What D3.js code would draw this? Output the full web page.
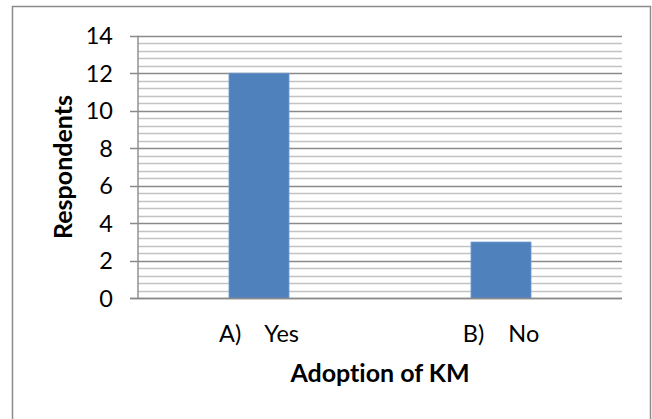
<!DOCTYPE html>
<html>
<head>
<meta charset="utf-8">
<script src="https://cdn.jsdelivr.net/npm/d3@7"></script>
<style>
  html, body { margin: 0; padding: 0; background: #fff; }
  svg { display: block; }
  text { font-family: Lato, "Open Sans", sans-serif; fill: #000; font-variant-ligatures: none; }
</style>
</head>
<body>
<svg id="chart" width="652" height="419"></svg>
<script>
// Survey answers: does the organisation adopt KM?
const categories = ["A)", "B)"];
const answers = ["Yes", "No"];
const respondents = [12, 3];
const yTicks = [0, 2, 4, 6, 8, 10, 12, 14];

const W = 652, H = 419;
const margin = { left: 138, right: 30, top: 35.7, bottom: 120.7 };
const svg = d3.select("#chart");

// chart frame (open at the bottom edge)
svg.append("path")
  .attr("d", `M12.5,${H + 5} V6.5 H650.5 V${H + 5}`)
  .attr("fill", "none")
  .attr("stroke", "#8c8c8c")
  .attr("stroke-width", 1.5);

const x = d3.scaleBand()
  .domain(categories)
  .range([margin.left, W - margin.right])
  .paddingInner(0.752)
  .paddingOuter(0.376);

const y = d3.scaleLinear()
  .domain([0, 14])
  .range([H - margin.bottom, margin.top]);

// minor gridlines: 5 steps per major interval
const minor = d3.range(0, 35).map(i => i * 0.4).filter((v, i) => i % 5 !== 0);
svg.append("g")
  .selectAll("line")
  .data(minor)
  .join("line")
  .attr("x1", margin.left)
  .attr("x2", W - margin.right)
  .attr("y1", d => Math.round(y(d)) + 0.5)
  .attr("y2", d => Math.round(y(d)) + 0.5)
  .attr("stroke", "#c3c3c3")
  .attr("stroke-width", 1.4);

// major gridlines with outward ticks
svg.append("g")
  .selectAll("line")
  .data(yTicks)
  .join("line")
  .attr("x1", margin.left - 8)
  .attr("x2", W - margin.right)
  .attr("y1", d => Math.round(y(d)) + 0.5)
  .attr("y2", d => Math.round(y(d)) + 0.5)
  .attr("stroke", "#8a8a8a")
  .attr("stroke-width", 1.4);

// y axis line
svg.append("line")
  .attr("x1", margin.left).attr("x2", margin.left)
  .attr("y1", y(14)).attr("y2", y(0))
  .attr("stroke", "#8a8a8a")
  .attr("stroke-width", 1.4);

// y tick labels
svg.append("g")
  .selectAll("text")
  .data(yTicks)
  .join("text")
  .attr("x", 113)
  .attr("y", d => y(d))
  .attr("dy", "0.36em")
  .attr("text-anchor", "end")
  .attr("font-size", 23.5)
  .text(d => d);

// bars
svg.append("g")
  .selectAll("rect")
  .data(categories)
  .join("rect")
  .attr("x", d => x(d))
  .attr("width", x.bandwidth())
  .attr("y", (d, i) => y(respondents[i]))
  .attr("height", (d, i) => y(0) - y(respondents[i]))
  .attr("fill", "#4f81bd")
  .attr("stroke", "#6f9bd0")
  .attr("stroke-width", 0.8);

// redraw baseline over the bars
svg.append("line")
  .attr("x1", margin.left - 8).attr("x2", W - margin.right)
  .attr("y1", Math.round(y(0)) + 0.5).attr("y2", Math.round(y(0)) + 0.5)
  .attr("stroke", "#8a8a8a")
  .attr("stroke-width", 1.4);

// category labels
svg.append("g")
  .selectAll("text")
  .data(categories)
  .join("text")
  .attr("x", d => x(d) + x.bandwidth() / 2)
  .attr("y", 341.5)
  .attr("text-anchor", "middle")
  .attr("font-size", 23.5)
  .attr("xml:space", "preserve")
  .style("white-space", "pre")
  .text((d, i) => d + "    " + answers[i]);

// axis titles
svg.append("text")
  .attr("x", (margin.left + W - margin.right) / 2)
  .attr("y", 381.5)
  .attr("text-anchor", "middle")
  .attr("font-size", 25)
  .attr("font-weight", "bold")
  .text("Adoption of KM");

svg.append("text")
  .attr("transform", `translate(72,${(y(0) + y(14)) / 2}) rotate(-90)`)
  .attr("text-anchor", "middle")
  .attr("font-size", 25)
  .attr("font-weight", "bold")
  .text("Respondents");
</script>
</body>
</html>
